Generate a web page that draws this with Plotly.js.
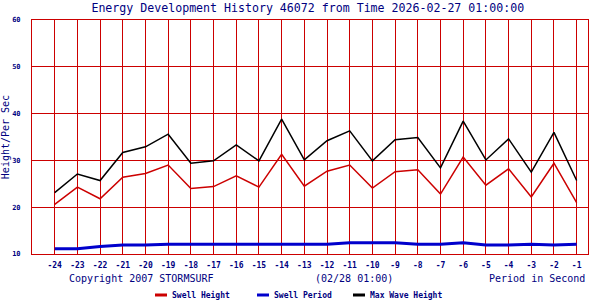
<!DOCTYPE html>
<html>
<head>
<meta charset="utf-8">
<script src="https://cdn.plot.ly/plotly-3.0.1.min.js"></script>
<style>html,body{margin:0;padding:0;background:#fff;}#chart{width:600px;height:300px;}</style>
</head>
<body>
<div id="chart"></div>
<script>
// Hours before reference time
const hours = [-24,-23,-22,-21,-20,-19,-18,-17,-16,-15,-14,-13,-12,-11,-10,-9,-8,-7,-6,-5,-4,-3,-2,-1];
const swellHeight = [20.6,24.3,21.8,26.4,27.2,29.0,24.0,24.4,26.7,24.3,31.3,24.5,27.7,29.0,24.1,27.6,28.0,22.8,30.7,24.7,28.2,22.2,29.4,21.0];
const swellPeriod = [11.1,11.1,11.6,11.9,11.9,12.1,12.1,12.1,12.1,12.1,12.1,12.1,12.1,12.4,12.4,12.4,12.1,12.1,12.4,11.9,11.9,12.1,11.9,12.1];
const maxWaveHeight = [23.1,27.1,25.7,31.7,32.9,35.6,29.4,29.9,33.3,29.9,38.8,30.1,34.2,36.3,29.9,34.4,34.9,28.4,38.4,30.1,34.6,27.5,36.0,25.7];
const yTicks = [10,20,30,40,50,60];
const seriesNames = ["Swell Height","Swell Period","Max Wave Height"];

const RED = "#cc0000", BLUE = "#0000cc", NAVY = "#000080";
const MONO = "DejaVu Sans Mono, monospace";

const traces = [
  {x: hours, y: swellHeight, name: seriesNames[0], mode: "lines", line: {color: RED, width: 1.5}},
  {x: hours, y: swellPeriod, name: seriesNames[1], mode: "lines", line: {color: BLUE, width: 3}},
  {x: hours, y: maxWaveHeight, name: seriesNames[2], mode: "lines", line: {color: "#000000", width: 1.5}}
];

const px = v => (v - 32) / 556;   // paper x from pixel
const py = v => (254 - v) / 234;  // paper y from pixel

const legendX = [155, 257, 353];
const legendColors = [RED, BLUE, "#000000"];
const shapes = legendX.map((x, i) => ({
  type: "line", xref: "paper", yref: "paper",
  x0: px(x), x1: px(x + 12), y0: py(295), y1: py(295),
  line: {color: legendColors[i], width: 3}
}));
const annotations = legendX.map((x, i) => ({
  xref: "paper", yref: "paper", x: px(x + 15), y: py(295),
  xanchor: "left", yanchor: "middle", showarrow: false,
  text: "<b>" + seriesNames[i] + "</b>", font: {family: MONO, size: 8, color: NAVY}
}));
annotations.push(
  {xref: "paper", yref: "paper", x: px(141), y: py(278), xanchor: "center", yanchor: "middle", showarrow: false,
   text: "Copyright 2007 STORMSURF", font: {family: MONO, size: 10, color: NAVY}},
  {xref: "paper", yref: "paper", x: px(354), y: py(278), xanchor: "center", yanchor: "middle", showarrow: false,
   text: "(02/28 01:00)", font: {family: MONO, size: 10, color: NAVY}},
  {xref: "paper", yref: "paper", x: px(537), y: py(278), xanchor: "center", yanchor: "middle", showarrow: false,
   text: "Period in Second", font: {family: MONO, size: 10, color: NAVY}}
);

const layout = {
  width: 600, height: 300,
  margin: {l: 32, r: 12, t: 20, b: 46},
  paper_bgcolor: "#ffffff", plot_bgcolor: "#ffffff",
  showlegend: false,
  title: {text: "Energy Development History 46072 from Time 2026-02-27 01:00:00",
          font: {family: MONO, size: 11.6, color: NAVY}, x: 0.513, xanchor: "center", y: 0.973, yanchor: "middle"},
  xaxis: {
    range: [-25, -0.5], tickvals: hours, ticktext: hours.map(String),
    showgrid: true, gridcolor: RED, gridwidth: 1,
    showline: true, linecolor: RED, linewidth: 1, mirror: true,
    zeroline: false, ticks: "", ticklabelstandoff: 3,
    tickfont: {family: MONO, size: 8, color: NAVY, weight: "bold"}
  },
  yaxis: {
    range: [10, 60], tickvals: yTicks,
    showgrid: true, gridcolor: RED, gridwidth: 1,
    showline: true, linecolor: RED, linewidth: 1, mirror: true,
    zeroline: false, ticks: "", ticklabelstandoff: 9,
    tickfont: {family: MONO, size: 7, color: NAVY, weight: "bold"},
    title: {text: "Height/Per Sec", font: {family: MONO, size: 10, color: NAVY}, standoff: 4},
    automargin: false
  },
  shapes: shapes,
  annotations: annotations
};

Plotly.newPlot("chart", traces, layout, {displayModeBar: false, staticPlot: true});
</script>
</body>
</html>
